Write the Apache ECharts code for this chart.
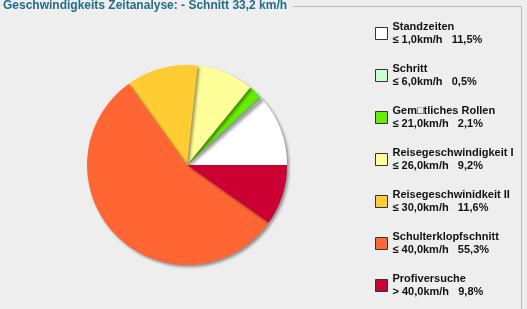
<!DOCTYPE html>
<html><head><meta charset="utf-8">
<script src="https://cdn.jsdelivr.net/npm/echarts@6/dist/echarts.min.js"></script>
<style>html,body{margin:0;padding:0;background:#eeeeee;}#c{width:527px;height:309px;}</style>
</head><body><div id="c"></div>
<script>
const titleText = 'Geschwindigkeits Zeitanalyse: - Schnitt 33,2 km/h';
const categories = ['Standzeiten', 'Schritt', 'Gem\u25A1tliches Rollen', 'Reisegeschwindigkeit I', 'Reisegeschwinidkeit II', 'Schulterklopfschnitt', 'Profiversuche'];
const ranges = ['\u2264 1,0km/h', '\u2264 6,0km/h', '\u2264 21,0km/h', '\u2264 26,0km/h', '\u2264 30,0km/h', '\u2264 40,0km/h', '> 40,0km/h'];
const values = [11.5, 0.5, 2.1, 9.2, 11.6, 55.3, 9.8];
const colors = ['#ffffff', '#ccffcc', '#66ee00', '#ffff99', '#ffcc33', '#ff6633', '#cc0033'];

function fmtPct(v){ return v.toFixed(1).replace('.', ',') + '%'; }

const chart = echarts.init(document.getElementById('c'));
chart.setOption({
  animation: false,
  backgroundColor: '#eeeeee',
  title: {
    text: titleText, left: 3, top: 0, padding: 0,
    textStyle: {fontFamily: 'Liberation Sans', fontSize: 12, fontWeight: 'bold', color: '#236c8c'}
  },
  graphic: [
    {type: 'polyline', shape: {points: [[293, 6.5], [521.5, 6.5], [521.5, 309]]}, style: {stroke: '#b8b8b8', lineWidth: 1, fill: null}, silent: true}
  ],
  legend: {
    orient: 'vertical', left: 375, top: 20, padding: 0,
    itemWidth: 12, itemHeight: 12, itemGap: 15,
    icon: 'rect',
    itemStyle: {borderColor: '#333333', borderWidth: 1},
    selectedMode: false,
    textStyle: {fontFamily: 'Liberation Sans', fontSize: 11, fontWeight: 'bold', color: '#111', lineHeight: 13.5, padding: [0,0,0,0]},
    formatter: function(name){
      const i = categories.indexOf(name);
      return name + '\n' + ranges[i] + '   ' + fmtPct(values[i]);
    },
    data: categories
  },
  series: [{
    type: 'pie',
    center: [187, 165], radius: 100,
    startAngle: 0, clockwise: false,
    label: {show: false}, labelLine: {show: false},
    emphasis: {disabled: true},
    itemStyle: {shadowBlur: 3, shadowOffsetX: 2, shadowOffsetY: 2, shadowColor: 'rgba(0,0,0,0.4)'},
    data: categories.map((n, i) => ({name: n, value: values[i], itemStyle: {color: colors[i]}}))
  }]
});
</script></body></html>
